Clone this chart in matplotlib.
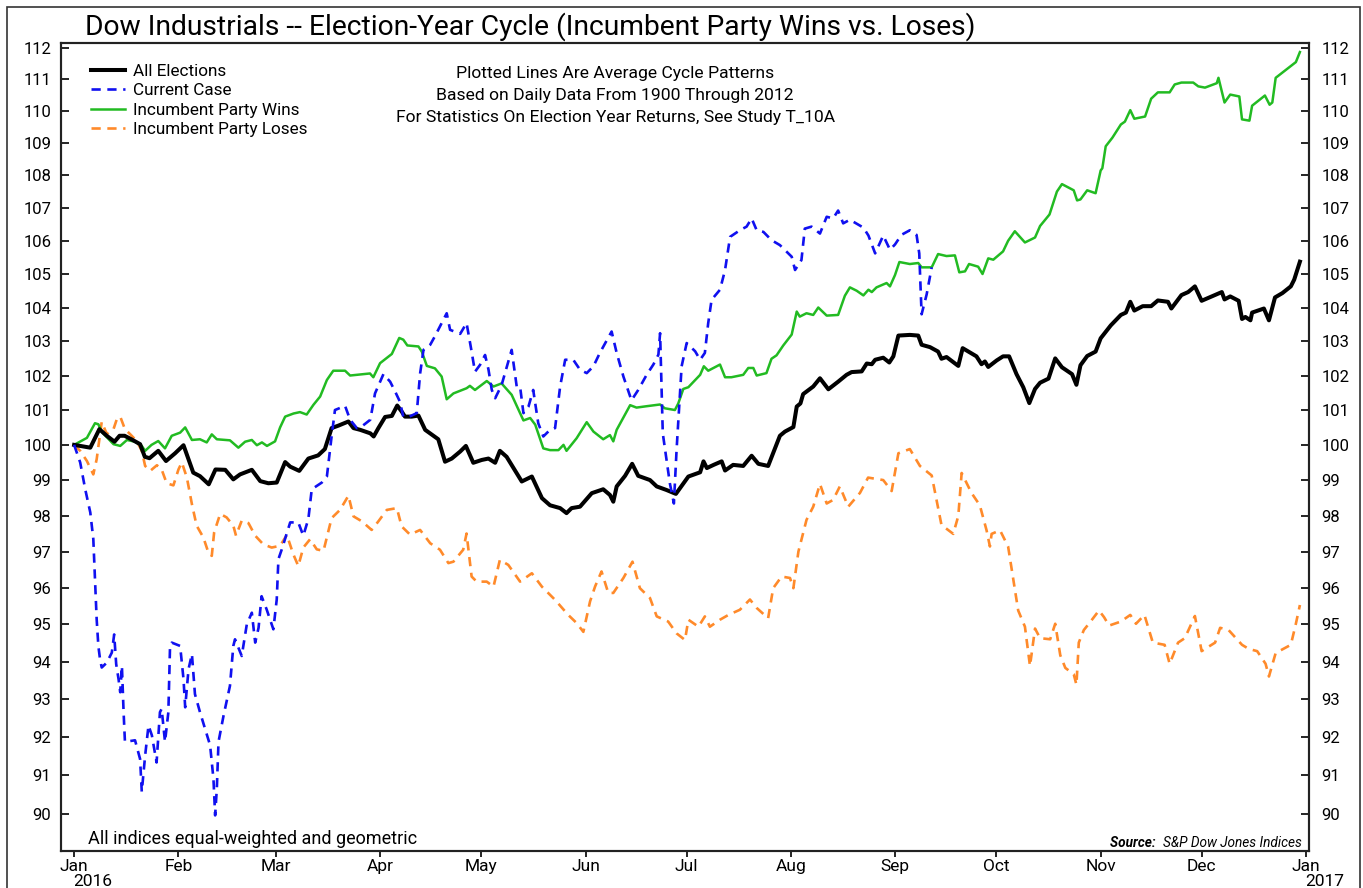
import numpy as np
import pandas as pd
import matplotlib
matplotlib.use("Agg")
import matplotlib.pyplot as plt
import matplotlib.dates as mdates
from matplotlib.ticker import FixedLocator, FixedFormatter, NullLocator
from matplotlib.patches import Rectangle

plt.rcParams['font.family'] = ['Roboto', 'DejaVu Sans']

# (day of 2016, index level)
all_elections = [
    (0, 100.0), (4.8, 99.92), (7.5, 100.45), (9.7, 100.26), (12, 100.09), (13.5, 100.26), (15, 100.26),
    (17, 100.16), (19.6, 100.02), (21, 99.66), (22.4, 99.62), (25, 99.83), (27.3, 99.54), (30, 99.76),
    (32.5, 99.99), (34, 99.59), (35.4, 99.21), (37.4, 99.11), (40, 98.88), (42, 99.3), (44.9, 99.29),
    (47.3, 99.02), (49.3, 99.16), (52.8, 99.29), (55.3, 98.97), (57.7, 98.91), (60.2, 98.93), (62.7, 99.51),
    (64.2, 99.38), (66.9, 99.26), (69.6, 99.61), (72.5, 99.7), (74.5, 99.88), (76.5, 100.48), (78.5, 100.55),
    (81.5, 100.67), (83, 100.48), (85, 100.43), (88, 100.33), (89, 100.24), (90.4, 100.48), (92.4, 100.8),
    (94.4, 100.83), (96, 101.13), (97.3, 100.96), (98.3, 100.81), (100.3, 100.81), (102.3, 100.84),
    (104.3, 100.43), (106.3, 100.29), (108.2, 100.16), (110.2, 99.52), (112.2, 99.61), (114.7, 99.81),
    (116.4, 99.97), (118.6, 99.49), (121.1, 99.57), (123.1, 99.61), (125.1, 99.49), (126.5, 99.83),
    (128.5, 99.66), (131, 99.27), (133, 98.96), (136, 99.1), (139, 98.49), (141.4, 98.29), (144.4, 98.21),
    (146.3, 98.07), (147.8, 98.21), (150.3, 98.25), (153.8, 98.63), (157.2, 98.74), (159.2, 98.58),
    (160.2, 98.39), (161.2, 98.82), (163.7, 99.12), (165.8, 99.46), (167.6, 99.12), (171.1, 99.0),
    (173.1, 98.82), (176, 98.72), (178.8, 98.61), (182.5, 99.1), (186, 99.22), (187, 99.53), (188, 99.34),
    (190, 99.43), (192.4, 99.53), (193.4, 99.27), (195.8, 99.43), (198.8, 99.4), (201.3, 99.69),
    (203.3, 99.46), (206.2, 99.4), (207.7, 99.77), (209.7, 100.26), (211.2, 100.38), (213.7, 100.51),
    (214.7, 101.1), (215.8, 101.19), (216.6, 101.46), (219.6, 101.68), (221.6, 101.92), (224.1, 101.6),
    (227, 101.82), (229.5, 102.02), (231, 102.1), (234, 102.12), (235.5, 102.35), (237, 102.33),
    (238, 102.46), (240.4, 102.52), (242.2, 102.38), (243.4, 102.56), (244.9, 103.17), (248.3, 103.19),
    (250.8, 103.17), (251.8, 102.9), (254.3, 102.83), (256.7, 102.7), (257.7, 102.49), (259.2, 102.54),
    (262.7, 102.28), (264, 102.8), (265.7, 102.7), (268.1, 102.56), (269.6, 102.33), (270.6, 102.41),
    (271.6, 102.25), (274.1, 102.44), (276, 102.56), (277.8, 102.56), (280, 102.04), (282, 101.66),
    (283.8, 101.2), (285.5, 101.61), (287, 101.79), (289.5, 101.91), (291.5, 102.5), (293.5, 102.24),
    (296.5, 102.04), (297.8, 101.73), (299, 102.3), (301, 102.57), (303.5, 102.7), (305, 103.09),
    (308, 103.47), (311, 103.78), (312.5, 103.85), (313.8, 104.17), (315, 103.91), (317.5, 104.04),
    (320, 104.04), (322, 104.21), (325, 104.17), (326, 103.97), (329, 104.37), (331, 104.46), (333, 104.63),
    (335, 104.2), (338, 104.33), (341, 104.46), (341.8, 104.24), (343.5, 104.33), (346, 104.2),
    (347, 103.66), (348, 103.72), (349.5, 103.62), (350, 103.85), (353.5, 103.97), (355, 103.62),
    (356.8, 104.3), (359, 104.43), (361.5, 104.63), (362.5, 104.83), (364.2, 105.37),
]

current_case = [
    (0, 100.0), (1.8, 99.5), (3.3, 98.74), (4.8, 98.09), (5.7, 97.35), (6.2, 96.23), (6.7, 95.14),
    (7.2, 94.42), (7.7, 94.06), (8.2, 93.84), (9.7, 93.97), (11.2, 94.24), (11.9, 94.73), (12.5, 93.93),
    (13.2, 93.53), (13.7, 93.18), (14.2, 93.88), (14.7, 92.65), (15.1, 91.87), (18.1, 91.91), (19.6, 91.42),
    (20.1, 90.57), (21.1, 91.51), (22.1, 92.3), (23.1, 92.04), (24.5, 91.33), (25.5, 92.65), (26, 92.74),
    (27, 91.87), (28, 92.65), (28.5, 94.42), (29, 94.51), (31.5, 94.42), (32.5, 93.53), (33, 92.78),
    (34, 93.8), (35, 94.2), (35.9, 93.13), (37.4, 92.65), (38.9, 92.21), (40.4, 91.78), (41.4, 90.9),
    (41.9, 89.96), (42.4, 90.65), (42.9, 91.87), (44.4, 92.56), (46.3, 93.35), (47.3, 94.42), (47.8, 94.6),
    (49.8, 94.15), (51.3, 95.0), (52.8, 95.32), (53.8, 94.51), (54.8, 94.91), (55.7, 95.77), (57.2, 95.41),
    (59.2, 94.87), (60.2, 95.68), (60.7, 96.79), (61.7, 97.06), (64.2, 97.81), (66.6, 97.81), (68.1, 97.44),
    (69.6, 97.91), (70.6, 98.74), (73.6, 98.93), (75.1, 99.1), (76.5, 100.24), (77.5, 101.0), (80.5, 101.12),
    (82, 100.72), (84, 100.48), (85.5, 100.53), (88, 100.72), (89.4, 101.48), (91.9, 102.04), (93.9, 101.82),
    (95.4, 101.53), (96.8, 101.24), (97.8, 100.81), (99.6, 100.81), (101.8, 100.91), (102.8, 102.06),
    (103.8, 102.75), (105.8, 102.9), (107.2, 103.15), (109.2, 103.54), (110.7, 103.83), (111.7, 103.34),
    (114.7, 103.22), (116.6, 103.54), (118.1, 102.7), (119.1, 102.11), (120.6, 102.31), (122.1, 102.6),
    (123.1, 102.18), (124.1, 101.58), (125.1, 101.34), (127, 101.72), (130, 102.75), (131.5, 101.68),
    (132.5, 101.68), (133.5, 100.91), (135, 101.1), (136.4, 101.58), (137.9, 100.62), (139.4, 100.24),
    (141.4, 100.43), (142.9, 100.48), (144.4, 101.68), (145.9, 102.46), (148.3, 102.46), (150.3, 102.17),
    (152.3, 102.07), (154.3, 102.27), (156.2, 102.66), (159.7, 103.29), (161.2, 102.66), (163.2, 101.97),
    (165.6, 101.28), (167.6, 101.58), (170.1, 102.02), (172.1, 102.32), (173.6, 102.61), (174.1, 103.24),
    (174.9, 100.33), (177, 98.91), (178.2, 98.34), (179, 99.86), (180.5, 102.27), (182, 102.95),
    (184.5, 102.71), (186, 102.46), (187.4, 102.66), (188.4, 103.54), (189.4, 104.23), (191.9, 104.53),
    (193.4, 105.12), (194.9, 106.12), (197.8, 106.32), (199.8, 106.43), (201.3, 106.68), (202.8, 106.32),
    (204.8, 106.27), (207.2, 106.02), (209.7, 105.87), (211.7, 105.67), (213.2, 105.52), (214.2, 105.12),
    (216.1, 105.42), (217.1, 106.37), (219.1, 106.43), (221.6, 106.22), (223.6, 106.73), (225.5, 106.68),
    (227, 106.92), (228.5, 106.53), (230.5, 106.64), (234.5, 106.4), (236, 106.16), (238, 105.62),
    (240.4, 106.16), (242.4, 105.73), (243.9, 105.89), (245.8, 106.18), (248.3, 106.32), (250.3, 106.18),
    (251.1, 105.62), (251.8, 103.8), (253.3, 104.39), (254.8, 105.2),
]

party_wins = [
    (0, 100.0), (3.8, 100.2), (6.2, 100.62), (7.2, 100.59), (8.2, 100.37), (11.7, 100.02), (13.7, 99.97),
    (15.7, 100.14), (18.1, 100.09), (20.1, 99.97), (21.1, 99.83), (23, 100.0), (25, 100.11), (27, 99.9),
    (29, 100.26), (31.5, 100.35), (33, 100.5), (35, 100.14), (37.4, 100.16), (39.4, 100.07), (40.9, 100.3),
    (42.4, 100.16), (46.3, 100.13), (48.8, 99.92), (50.8, 100.09), (52.8, 100.14), (54.3, 99.99),
    (55.8, 100.07), (57.3, 99.97), (59.7, 100.1), (61.2, 100.5), (62.7, 100.81), (65.2, 100.9),
    (67.1, 100.94), (69.1, 100.87), (71.1, 101.15), (73.1, 101.39), (75.1, 101.87), (77, 102.14),
    (80.5, 102.14), (82, 102.0), (87.9, 102.06), (88.9, 101.95), (90.9, 102.36), (94.4, 102.63),
    (96.6, 103.1), (97.8, 103.05), (99, 102.88), (102.3, 102.85), (103.3, 102.7), (104.8, 102.28),
    (107.2, 102.21), (109.2, 101.97), (110.7, 101.31), (112.7, 101.48), (116.6, 101.63), (117.6, 101.7),
    (119.1, 101.58), (122.6, 101.84), (124.6, 101.68), (127, 101.77), (130, 101.44), (133.5, 100.7),
    (135.5, 100.77), (137, 100.58), (139.4, 99.9), (141.4, 99.85), (143.9, 99.85), (145.4, 100.0),
    (146.3, 99.83), (149.3, 100.19), (152.3, 100.65), (154.3, 100.38), (157.2, 100.16), (159.2, 100.28),
    (160.2, 100.1), (161.2, 100.43), (165.2, 101.14), (167.1, 101.07), (170.1, 101.11), (174.1, 101.16),
    (175.5, 101.05), (178.5, 101.0), (179.5, 101.19), (181, 101.61), (182.5, 101.66), (186, 102.02),
    (187.1, 102.27), (188.4, 102.14), (191.9, 102.32), (193.4, 101.95), (195.3, 101.95), (198.8, 102.02),
    (200.3, 102.22), (201.8, 102.22), (202.8, 102.0), (205.7, 102.07), (207.2, 102.49), (208.7, 102.59),
    (210.7, 102.88), (213.2, 103.2), (214.7, 103.88), (215.6, 103.73), (217.6, 103.83), (219.6, 103.78),
    (221.1, 104.0), (223.6, 103.76), (227, 103.78), (229, 104.35), (230.5, 104.6), (232.5, 104.5),
    (234.5, 104.36), (236, 104.53), (237, 104.46), (238.4, 104.6), (241.4, 104.73), (242.4, 104.63),
    (243.9, 104.97), (245.2, 105.36), (248.3, 105.3), (250.8, 105.33), (251.8, 105.2), (254.8, 105.2),
    (256.7, 105.6), (259.2, 105.54), (261.7, 105.56), (263, 105.05), (264.7, 105.08), (265.9, 105.3),
    (268.6, 105.22), (269.9, 105.0), (271.6, 105.47), (273.1, 105.43), (276, 105.68), (277.5, 106.0),
    (279.5, 106.29), (282.5, 105.95), (285.5, 106.1), (287, 106.45), (289.8, 106.8), (292, 107.5),
    (293.5, 107.73), (297, 107.54), (298, 107.23), (299, 107.26), (301, 107.54), (303.5, 107.45),
    (305, 108.15), (305.5, 108.22), (306.5, 108.9), (308.5, 109.17), (311, 109.58), (312.2, 109.67),
    (313.8, 110.03), (315, 109.76), (318.2, 109.83), (320, 110.39), (322, 110.59), (325.5, 110.59),
    (327, 110.84), (329, 110.9), (332.5, 110.9), (334, 110.78), (336, 110.74), (339.5, 110.88),
    (340, 111.05), (341.8, 110.27), (343.5, 110.52), (346.2, 110.46), (347, 109.74), (349.2, 109.7),
    (350, 110.17), (353.8, 110.49), (355.2, 110.2), (356, 110.27), (357, 111.05), (363, 111.55),
    (364.2, 111.87),
]

party_loses = [
    (0, 100.0), (1.8, 99.83), (3.8, 99.54), (5.7, 99.16), (6.7, 99.59), (8.2, 100.66), (9.7, 100.31),
    (11.7, 100.45), (12.7, 100.74), (13.7, 100.81), (15.1, 100.45), (16.6, 100.31), (18.6, 100.11),
    (20.1, 99.83), (21.1, 99.4), (22.6, 99.26), (24.6, 99.42), (26, 99.3), (27.5, 98.91), (29.5, 98.85),
    (31, 99.3), (32, 99.5), (33.5, 99.07), (35, 98.32), (36.4, 97.72), (38.4, 97.39), (39.9, 96.97),
    (40.9, 96.88), (41.6, 97.53), (43.4, 98.05), (45.3, 97.95), (47.3, 97.72), (48.1, 97.44), (49.8, 97.86),
    (51.8, 97.79), (53.8, 97.44), (56.2, 97.2), (58.7, 97.11), (61.2, 97.16), (63.2, 97.46), (65.1, 96.93),
    (66.6, 96.6), (68.1, 97.11), (70.1, 97.34), (72.1, 97.06), (74.1, 97.02), (76.5, 97.93), (79, 98.16),
    (81.5, 98.56), (83, 97.98), (85.5, 97.84), (88.4, 97.6), (90.4, 97.84), (92.9, 98.16), (95.9, 98.21),
    (97.3, 97.7), (99.8, 97.47), (102.8, 97.6), (105.8, 97.23), (108.7, 97.05), (111.2, 96.68),
    (112.7, 96.72), (115.6, 97.05), (116.6, 97.5), (118.1, 96.31), (119.6, 96.17), (122.6, 96.17),
    (124.6, 96.03), (126.5, 96.77), (129, 96.63), (132.5, 96.17), (136, 96.4), (139, 96.03), (142.9, 95.67),
    (146.8, 95.26), (149.3, 95.04), (151.3, 94.8), (153.3, 95.63), (154.8, 96.04), (156.7, 96.45),
    (158.7, 95.86), (160.2, 95.86), (163.2, 96.27), (165.9, 96.72), (168.1, 95.99), (171.1, 95.72),
    (173.1, 95.22), (176.5, 95.08), (179, 94.76), (181.5, 94.58), (182.5, 95.13), (185.5, 94.94),
    (187.4, 95.22), (188.9, 94.94), (191.9, 95.13), (194.4, 95.26), (197.8, 95.4), (200.8, 95.68),
    (202.8, 95.45), (206.2, 95.17), (207.7, 95.99), (210.2, 96.31), (212.7, 96.27), (213.7, 95.99),
    (215.2, 97.0), (217.6, 97.88), (219.6, 98.25), (221.6, 98.89), (223.6, 98.34), (225.5, 98.44),
    (227.5, 98.82), (230, 98.25), (233.5, 98.64), (235.9, 99.07), (240.4, 99.0), (242.9, 98.69),
    (244.9, 99.76), (248.3, 99.88), (251.3, 99.4), (254.8, 99.13), (257.7, 97.74), (261.2, 97.49),
    (262.7, 97.99), (263.7, 99.2), (266.6, 98.64), (269.1, 98.29), (271.1, 97.59), (272.1, 97.14),
    (272.6, 97.49), (275.1, 97.59), (277.5, 97.14), (279, 96.26), (280.5, 95.38), (282.5, 94.94),
    (284, 93.88), (285.5, 94.89), (287, 94.63), (290, 94.6), (291.5, 95.02), (293, 94.17), (294.5, 93.83),
    (297, 93.66), (297.8, 93.38), (298.5, 94.51), (300, 94.85), (302, 95.08), (304.5, 95.38), (306, 95.2),
    (307.5, 94.97), (311, 95.08), (313.8, 95.26), (315.5, 95.02), (318, 95.26), (320.5, 94.51),
    (324, 94.45), (325.5, 93.94), (328, 94.51), (330, 94.63), (333, 95.23), (335, 94.28), (339, 94.51),
    (340.5, 94.91), (343, 94.85), (347, 94.45), (349, 94.34), (351.5, 94.28), (354, 93.94), (355, 93.6),
    (357, 94.23), (361.5, 94.45), (363, 95.02), (364.2, 95.53),
]

yticks = list(range(90, 113))
notes = ["Plotted Lines Are Average Cycle Patterns",
         "Based on Daily Data From 1900 Through 2012",
         "For Statistics On Election Year Returns, See Study T_10A"]

start = pd.Timestamp("2016-01-01")


def to_xy(pairs):
    d = np.array([p[0] for p in pairs])
    v = np.array([p[1] for p in pairs])
    return start + pd.to_timedelta(d, unit="D"), v


fig = plt.figure(figsize=(13.63, 8.88), dpi=100)
ax = fig.add_axes([0.04475, 0.04167, 0.91563, 0.90991])

x, y = to_xy(party_loses)
l4, = ax.plot(x, y, color="#ff8a2a", lw=1.9, dashes=(3.5, 2.5), label="Incumbent Party Loses")
x, y = to_xy(party_wins)
l3, = ax.plot(x, y, color="#22bb22", lw=1.8, label="Incumbent Party Wins")
x, y = to_xy(all_elections)
l1, = ax.plot(x, y, color="black", lw=2.9, label="All Elections")
x, y = to_xy(current_case)
l2, = ax.plot(x, y, color="#1010f0", lw=1.9, dashes=(3.5, 2.5), label="Current Case")

ax.set_xlim(start - pd.Timedelta(days=3.9), pd.Timestamp("2017-01-01") + pd.Timedelta(days=0.9))

ax2 = ax.twinx()
for a in (ax, ax2):
    a.set_yscale("log")
    a.set_ylim(89.05, 112.16)
    a.yaxis.set_major_locator(FixedLocator(yticks))
    a.yaxis.set_major_formatter(FixedFormatter([str(t) for t in yticks]))
    a.yaxis.set_minor_locator(NullLocator())
ax.tick_params(axis="y", direction="in", length=6, width=1.2, pad=7, labelsize=12)
ax2.tick_params(axis="y", direction="in", length=6, width=1.2, pad=9, labelsize=12)

ax.xaxis.set_major_locator(mdates.MonthLocator())
ax.xaxis.set_major_formatter(mdates.DateFormatter("%b"))
ax.xaxis.set_minor_locator(NullLocator())
ax.tick_params(axis="x", direction="out", length=4, width=1.2, pad=2, labelsize=12.5)
for yr in (2016, 2017):
    ax.annotate(str(yr), xy=(pd.Timestamp(f"{yr}-01-01"), 0), xycoords=("data", "axes fraction"),
                xytext=(-1, -23), textcoords="offset pixels", ha="left", va="top", fontsize=12.5)

for a in (ax, ax2):
    for s in a.spines.values():
        s.set_linewidth(1.5)
        s.set_color("#222222")

ax.legend(handles=[l1, l2, l3, l4], loc="upper left", bbox_to_anchor=(0.024, 0.974),
          frameon=False, fontsize=12.3, handlelength=2.0, handletextpad=0.45,
          labelspacing=0.25, borderpad=0, borderaxespad=0)

for i, t in enumerate(notes):
    ax.text(0.444, 0.962 - i * 0.0272, t, transform=ax.transAxes, ha="center", va="center", fontsize=12.6)

ax.text(0.0216, 0.0149, "All indices equal-weighted and geometric", transform=ax.transAxes,
        ha="left", va="center", fontsize=13)
src = ax.text(0.994, 0.0105, "S&P Dow Jones Indices", transform=ax.transAxes,
              ha="right", va="center", fontsize=9.8, style="italic")
ax.annotate("Source:  ", xy=(0, 0.5), xycoords=src, ha="right", va="center",
            fontsize=9.8, style="italic", fontweight="bold")

fig.text(0.0624, 0.9696, "Dow Industrials -- Election-Year Cycle (Incumbent Party Wins vs. Loses)",
         ha="left", va="center", fontsize=20.3)

fig.patches.append(Rectangle((7 / 1363, -0.02), 1353 / 1363, 1.0121, transform=fig.transFigure,
                             fill=False, edgecolor="#333333", lw=1.2))

fig.savefig("out.png", dpi=100)
